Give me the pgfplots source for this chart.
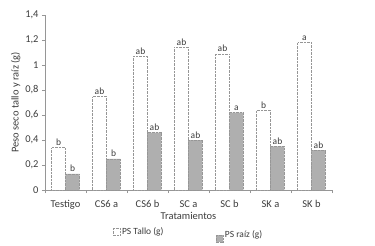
\documentclass[border=0pt]{standalone}
\usepackage{pgfplots}
\pgfplotsset{compat=1.18}
\usepackage{fontspec}
\setmainfont{Carlito}
\definecolor{axgray}{RGB}{150,150,150}
\definecolor{bargray}{RGB}{175,175,175}
\definecolor{txtgray}{RGB}{60,60,60}
\pgfplotsset{
  highlegend/.style={legend image code/.code={\draw[##1] (0bp,-3.5bp) rectangle (7bp,3.5bp);}},
  lowlegend/.style={legend image code/.code={\draw[##1] (0bp,-10.5bp) rectangle (7bp,-3.5bp);}},
}
\begin{document}
\begin{tikzpicture}
\useasboundingbox (-45bp,-56bp) rectangle (330bp,190bp);
\begin{axis}[
  at={(0,0)}, anchor=south west,
  scale only axis, width=287bp, height=175bp,
  ybar=0pt, bar width=14bp,
  xmin=-0.5, xmax=6.5, ymin=0, ymax=1.4,
  axis x line=bottom, axis y line=left,
  axis line style={axgray, -},
  xtick={0,...,6},
  xticklabels={Testigo, CS6 a, CS6 b, SC a, SC b, SK a, SK b},
  minor xtick={-0.5,0.5,...,6.5},
  ytick={0,0.2,...,1.4},
  yticklabel style={/pgf/number format/.cd, use comma, fixed, precision=1},
  /pgf/number format/assume math mode=true,
  tick align=outside,
  major tick length=3bp, minor tick length=3bp,
  x tick style={draw=none},
  minor x tick style={draw=axgray},
  y tick style={axgray},
  tick label style={font=\fontsize{10.5}{12}\selectfont, text=txtgray},
  xticklabel style={yshift=-4bp},
  xlabel={Tratamientos}, ylabel={Peso seco tallo y raíz (g)},
  label style={font=\fontsize{10.5}{12}\selectfont, text=txtgray},
  xlabel style={yshift=4bp},
  ylabel style={yshift=-2bp},
  point meta=explicit symbolic,
  nodes near coords,
  every node near coord/.append style={font=\fontsize{9.5}{10}\selectfont, text=txtgray, inner sep=1.5bp},
  legend style={at={(0.5,-0.19)}, anchor=north, draw=none, fill=none,
    font=\fontsize{9.5}{10}\selectfont, text=txtgray, legend columns=2,
    /tikz/every even column/.append style={column sep=50bp}},
  clip=false,
]
\addplot[draw=axgray, fill=white, densely dotted, highlegend] coordinates {
 (0,0.34) [b] (1,0.75) [ab] (2,1.07) [ab] (3,1.14) [ab] (4,1.09) [ab] (5,0.64) [b] (6,1.18) [a]};
\addplot[draw=axgray, fill=bargray, densely dotted, lowlegend] coordinates {
 (0,0.13) [b] (1,0.25) [b] (2,0.46) [ab] (3,0.40) [ab] (4,0.62) [a] (5,0.35) [ab] (6,0.32) [ab]};
\legend{PS Tallo (g), \raisebox{-7bp}{PS raíz (g)}}
\end{axis}
\end{tikzpicture}
\end{document}
